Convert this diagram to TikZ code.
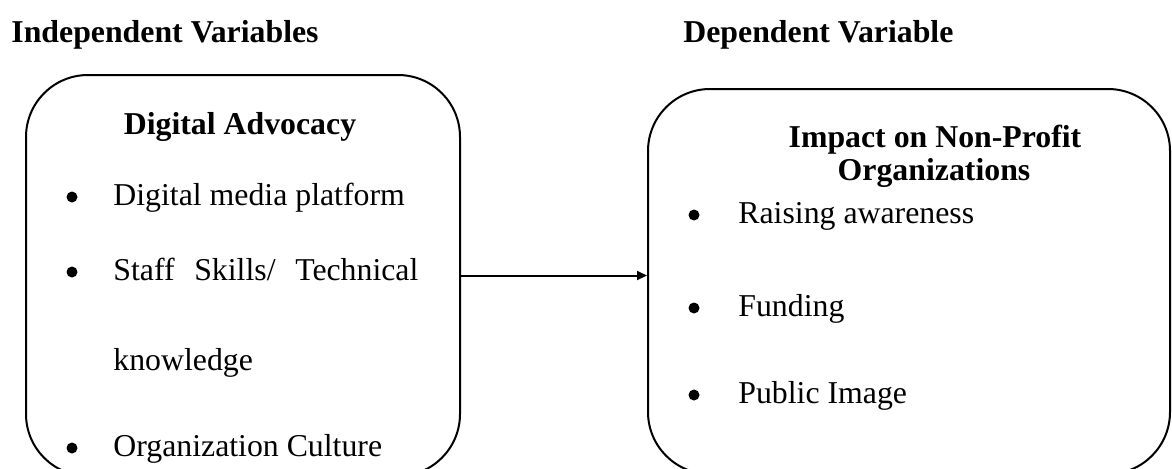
\documentclass[tikz,border=0pt]{standalone}
\usepackage{fontspec}
\setmainfont{Liberation Serif}
\usetikzlibrary{arrows.meta}

\begin{document}
\begin{tikzpicture}[
    x=0.5pt, y=-0.5pt,
    var/.style={
        rectangle,
        draw,
        line width=1pt,
        rounded corners=31pt,
        inner sep=0pt
    },
    heading/.style={
        anchor=base west,
        inner sep=0pt,
        font=\fontsize{15.9}{19}\selectfont\bfseries
    },
    title/.style={
        anchor=base,
        inner sep=0pt,
        font=\fontsize{15.9}{19}\selectfont\bfseries
    },
    item/.style={
        anchor=base west,
        inner sep=0pt,
        font=\fontsize{15.9}{19}\selectfont
    },
    dot/.style={circle, fill, inner sep=0pt, minimum size=5.5pt},
    arrow/.style={-{Triangle[length=5pt,width=4.5pt]}, line width=1pt}
]
\clip (0,0) rectangle (1172,468);

% Encabezados
\node[heading] (indep) at (11,42) {Independent Variables};
\node[heading] (dep) at (683,42) {Dependent Variable};

% Variables independientes
\node[var, minimum width=217pt, minimum height=200.5pt] (advocacy) at (243,275.5) {};
\node[title] (advtitle) at (240,134) {Digital Advocacy};

\node[dot] (b1) at (72,197) {};
\node[item] (media) at (113,205) {Digital media platform};
\node[dot] (b2) at (72,272) {};
\node[item] (skills) at (113,280) {\makebox[152.5pt][s]{Staff Skills/ Technical}};
\node[item] (knowledge) at (113,370) {knowledge};
\node[dot] (b3) at (72,448) {};
\node[item] (culture) at (113,456) {Organization Culture};

% Variable dependiente
\node[var, minimum width=261pt, minimum height=192.5pt] (impact) at (909,281.5) {};
\node[title] (imptitle) at (935,147) {Impact on Non-Profit};
\node[title] (imptitle2) at (934,180) {Organizations};

\node[dot] (b4) at (694,215) {};
\node[item] (awareness) at (738,223) {Raising awareness};
\node[dot] (b5) at (694,308) {};
\node[item] (funding) at (738,316) {Funding};
\node[dot] (b6) at (694,395) {};
\node[item] (image) at (738,403) {Public Image};

% Flecha
\draw[arrow] (advocacy.east) -- (advocacy.east -| impact.west);

\end{tikzpicture}
\end{document}
